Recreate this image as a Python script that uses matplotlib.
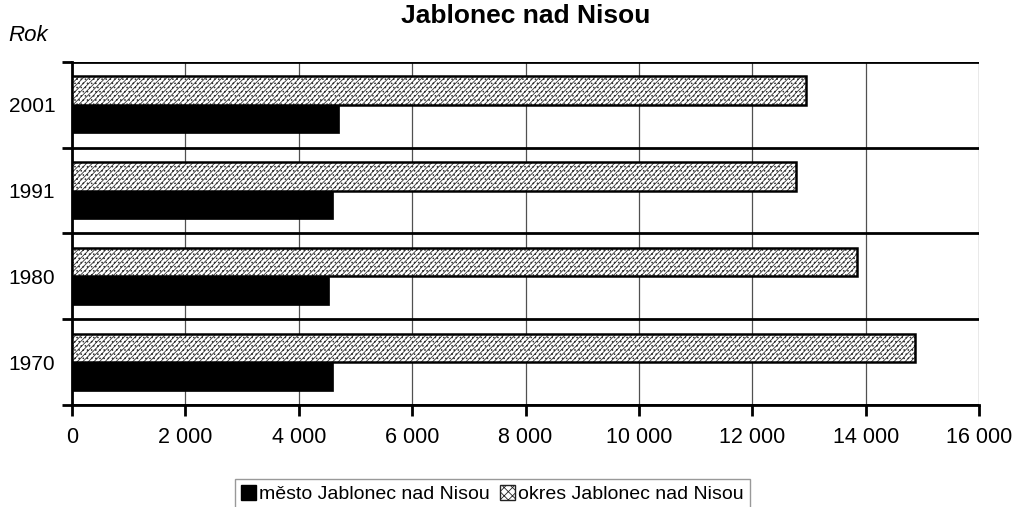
import numpy as np
import matplotlib.pyplot as plt
from matplotlib.patches import Patch

plt.rcParams['font.family'] = ['Liberation Sans', 'DejaVu Sans']
plt.rcParams['hatch.linewidth'] = 0.6

years = ["1970", "1980", "1991", "2001"]
mesto = [4600, 4530, 4600, 4710]
okres = [14870, 13850, 12770, 12950]

fig = plt.figure(figsize=(10.14, 5.07), dpi=100)
ax = fig.add_axes([0.071, 0.2012, 0.8945, 0.6765])

y = np.arange(len(years))
bh = 1 / 3
# stippled district bars
ax.barh(y + bh / 2, okres, height=bh, color="white", hatch="//////....",
        edgecolor="#333333", linewidth=0, zorder=3)
ax.barh(y + bh / 2, okres, height=bh, color="none", edgecolor="black",
        linewidth=1.8, zorder=3)
ax.barh(y - bh / 2, mesto, height=bh, color="black", edgecolor="black",
        linewidth=0.5, zorder=3)

ax.set_xlim(0, 16000)
ax.set_ylim(-0.5, 3.5)
ax.set_xticks(np.arange(0, 16001, 2000))
ax.set_xticklabels(["0" if v == 0 else f"{v // 1000} 000" for v in range(0, 16001, 2000)])
ax.set_yticks(np.arange(-0.5, 3.6, 1))
ax.set_yticklabels([])
ax.set_yticks(y, minor=True)
ax.set_yticklabels(years, minor=True)
ax.tick_params(axis="y", which="minor", length=0, labelsize=15, pad=12)
ax.tick_params(axis="y", which="major", length=7, width=2, direction="out")
ax.tick_params(axis="x", length=8, width=2, labelsize=15.5, pad=8)

ax.grid(axis="y", which="major", color="black", linewidth=2, zorder=1)
ax.grid(axis="x", color="#505050", linewidth=0.9, zorder=1)
for s in ["top", "right"]:
    ax.spines[s].set_visible(False)
ax.spines["left"].set_linewidth(2)
ax.spines["bottom"].set_linewidth(2)

fig.text(0.518, 0.955, "Jablonec nad Nisou", ha="center", va="baseline",
         fontsize=19, fontweight="bold")
fig.text(0.008, 0.93, "Rok", ha="left", va="center", fontsize=16, style="italic")

handles = [Patch(facecolor="black", edgecolor="black"),
           Patch(facecolor="white", edgecolor="#222222", hatch="xxxx")]
fig.legend(handles, ["město Jablonec nad Nisou", "okres Jablonec nad Nisou"],
           loc="lower center", bbox_to_anchor=(0.4857, -0.004), ncol=2,
           fontsize=14, frameon=True, fancybox=False, edgecolor="#808080",
           handlelength=0.75, handleheight=0.75, handletextpad=0.2,
           columnspacing=0.5, borderpad=0.3, borderaxespad=0)

fig.savefig("out.png", dpi=100)
